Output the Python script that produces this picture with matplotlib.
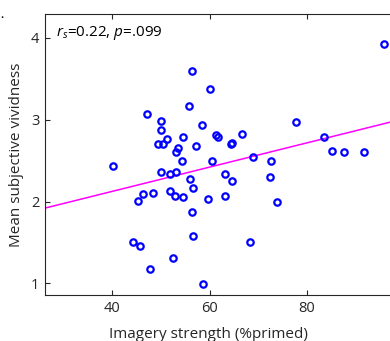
import numpy as np
import matplotlib

matplotlib.use("Agg")
import matplotlib.pyplot as plt

# imagery strength (%primed) per participant
imagery_strength = [
    56.3, 60.1, 55.7, 47.1, 50.1, 50.1, 58.4, 51.2, 49.5, 50.5,
    54.6, 61.4, 61.8, 53.6, 53.2, 57.3, 64.3, 64.5, 54.3, 60.4,
    40.1, 66.6, 69.0, 72.7, 77.7, 83.5, 85.2, 87.6, 91.7, 95.8,
    50.1, 51.9, 53.2, 56.0, 56.6, 63.1, 64.5, 72.4, 46.4, 45.3,
    48.4, 51.9, 52.9, 54.6, 59.7, 63.1, 73.8, 56.3, 56.6, 44.3,
    45.7, 52.5, 47.7, 58.7, 68.3,
]
# mean subjective vividness per participant
vividness = [
    3.59, 3.38, 3.17, 3.07, 2.99, 2.87, 2.93, 2.76, 2.70, 2.70,
    2.79, 2.81, 2.79, 2.66, 2.60, 2.68, 2.70, 2.71, 2.50, 2.50,
    2.44, 2.83, 2.54, 2.50, 2.97, 2.79, 2.62, 2.60, 2.60, 3.93,
    2.36, 2.34, 2.36, 2.28, 2.17, 2.34, 2.25, 2.30, 2.09, 2.01,
    2.11, 2.13, 2.07, 2.05, 2.03, 2.07, 1.99, 1.87, 1.58, 1.50,
    1.46, 1.31, 1.17, 0.99, 1.50,
]
# fitted trend line
fit_slope = 0.01483
fit_intercept = 1.531

stat_text = "$r_s$=0.22, $p$=.099"

FONT = "Open Sans"
plt.rcParams["font.family"] = [FONT, "DejaVu Sans"]
plt.rcParams["mathtext.fontset"] = "custom"
plt.rcParams["mathtext.rm"] = FONT
plt.rcParams["mathtext.it"] = FONT + ":italic"

edge = "#262626"

fig = plt.figure(figsize=(3.9, 3.41), dpi=100)
ax = fig.add_axes([45 / 390, 46 / 341, 359.4 / 390, 281 / 341])

xlim = (26.2, 100.0)
line_x = np.array(xlim)
ax.plot(line_x, fit_intercept + fit_slope * line_x, color="#ff00ff", lw=1.1, zorder=2)
ax.plot(
    imagery_strength,
    vividness,
    "o",
    ls="none",
    ms=4.6,
    mfc="none",
    mec="#0000ff",
    mew=1.6,
    zorder=3,
)

ax.set_xlim(*xlim)
ax.set_ylim(0.857, 4.293)
ax.set_xticks([40, 60, 80])
ax.set_yticks([1, 2, 3, 4])
ax.tick_params(
    direction="in", length=3.5, width=0.8, colors=edge, labelsize=10.5,
    top=True, right=True, pad=4,
)
for spine in ax.spines.values():
    spine.set_color(edge)
    spine.set_linewidth(0.8)

ax.set_xlabel("Imagery strength (%primed)", fontsize=11, color=edge)
ax.xaxis.label.set_va("baseline")
ax.xaxis.set_label_coords(163 / 359.4, -43 / 281)
ax.set_ylabel("Mean subjective vividness", fontsize=11, color=edge, labelpad=5)
ax.text(
    0.03, 0.965, stat_text, transform=ax.transAxes, fontsize=11,
    ha="left", va="top", color="black",
)
fig.text(0.0, 0.945, "•", fontsize=6, ha="left", va="center", color="black")

fig.savefig("out.png", dpi=100)
